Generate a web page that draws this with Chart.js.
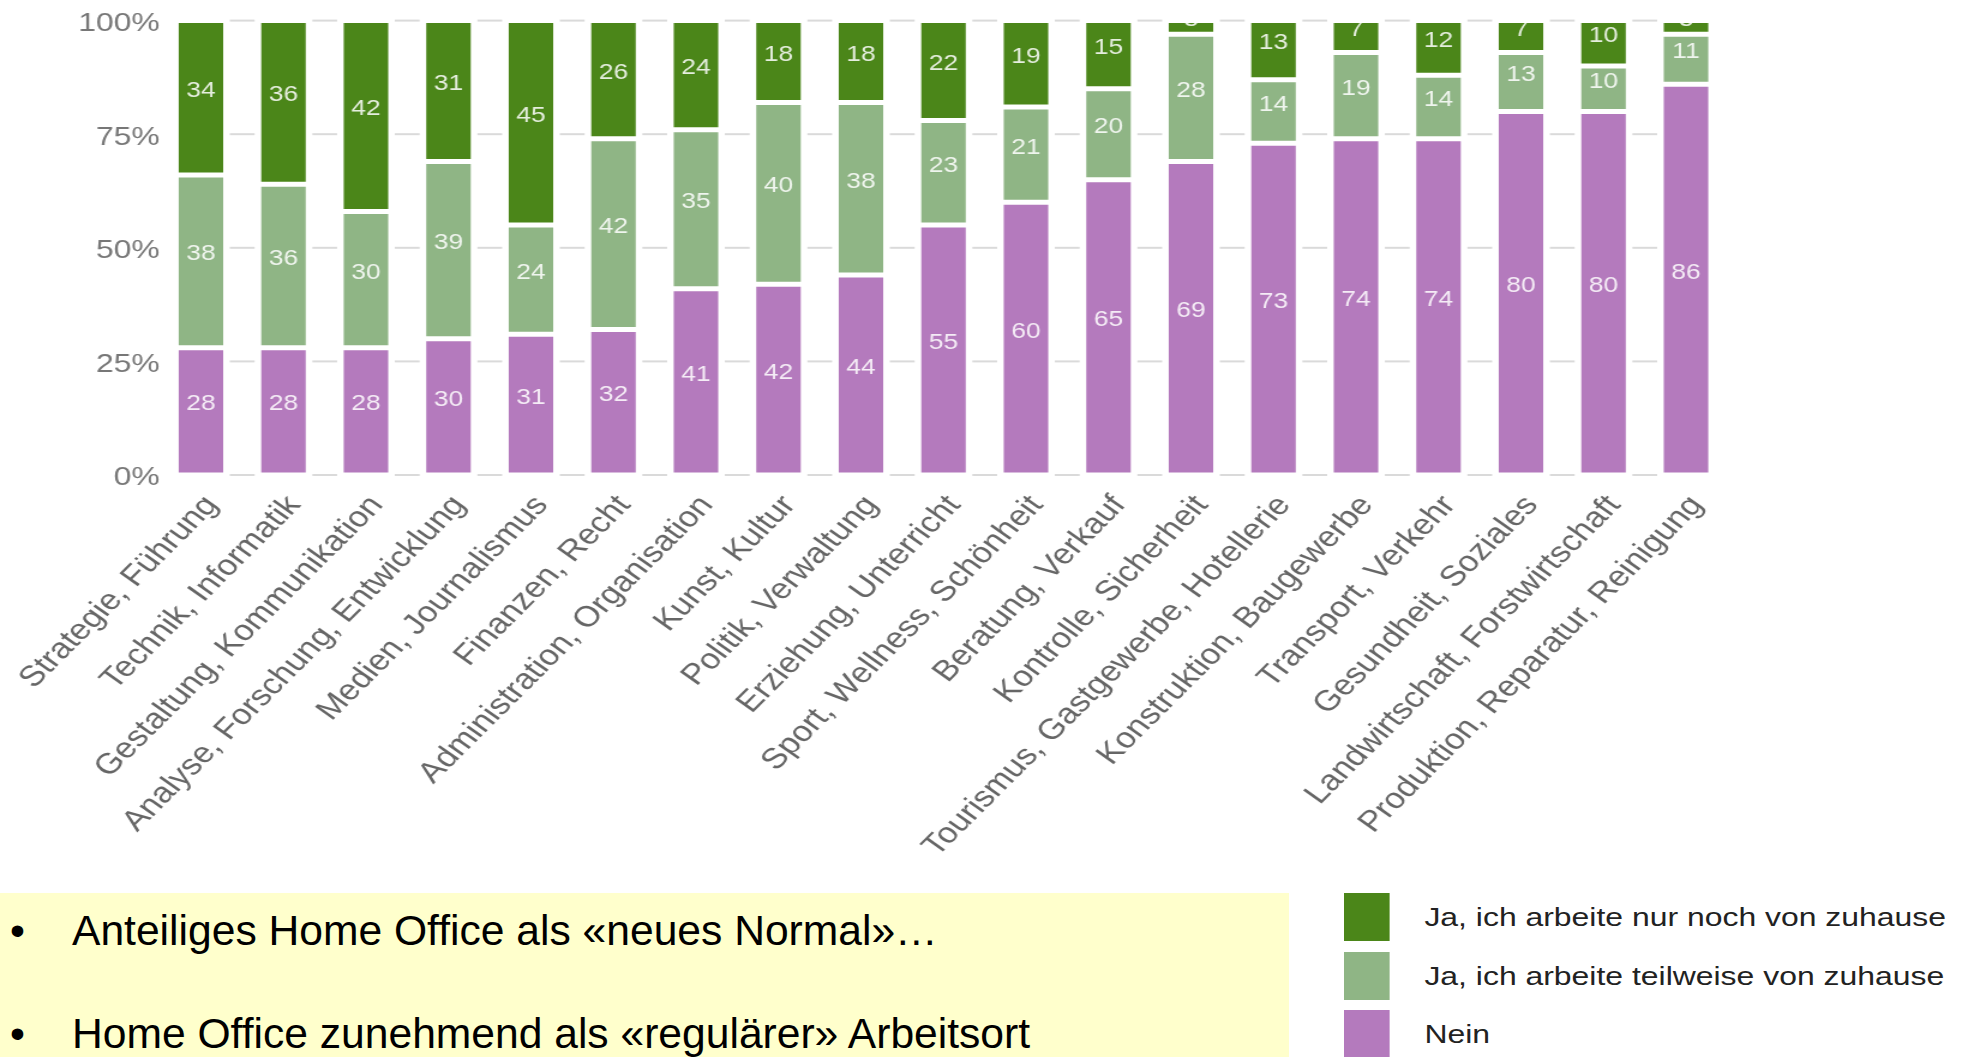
<!DOCTYPE html>
<html lang="de">
<head>
<meta charset="utf-8">
<title>Home Office nach Berufsfeld</title>
<script src="https://cdn.jsdelivr.net/npm/chart.js@4.4.1/dist/chart.umd.min.js"></script>
<style>
  html, body { margin: 0; padding: 0; background: #fff; }
  body {
    width: 1968px; height: 1057px; position: relative; overflow: hidden;
    font-family: 'Liberation Sans', Arial, sans-serif;
  }
  #chart { position: absolute; left: 0; top: 0; width: 1968px; height: 893px; }
  .notes {
    position: absolute; left: 0; top: 893px; width: 1289px; height: 164px;
    background: #ffffcc; color: #000; font-size: 42.6px;
  }
  .note { position: absolute; left: 0; width: 100%; height: 50px; line-height: 50px; white-space: nowrap; }
  .note .dot { position: absolute; left: 10px; }
  .note .txt { position: absolute; left: 72px; }
  /* the legend shares the chart's horizontal stretch */
  #legend {
    position: absolute; left: 1344px; top: 893px; width: 520px; height: 164px;
    transform: scaleX(1.2); transform-origin: 0 0;
  }
  .legend-item { position: absolute; left: 0; height: 48px; }
  .legend-box { position: absolute; left: 0; top: 0; width: 38px; height: 48px; }
  .legend-text {
    position: absolute; left: 67px; top: 0; line-height: 48px; font-size: 26.6px;
    color: #222; white-space: nowrap;
  }
</style>
</head>
<body>
<canvas id="chart" width="1640" height="893"></canvas>

<div class="notes">
  <div class="note" style="top:12px"><span class="dot">•</span><span class="txt">Anteiliges Home Office als «neues Normal»…</span></div>
  <div class="note" style="top:115px"><span class="dot">•</span><span class="txt">Home Office zunehmend als «regulärer» Arbeitsort</span></div>
</div>

<div id="legend"></div>

<script>
'use strict';

const categories = [
  'Strategie, Führung',
  'Technik, Informatik',
  'Gestaltung, Kommunikation',
  'Analyse, Forschung, Entwicklung',
  'Medien, Journalismus',
  'Finanzen, Recht',
  'Administration, Organisation',
  'Kunst, Kultur',
  'Politik, Verwaltung',
  'Erziehung, Unterricht',
  'Sport, Wellness, Schönheit',
  'Beratung, Verkauf',
  'Kontrolle, Sicherheit',
  'Tourismus, Gastgewerbe, Hotellerie',
  'Konstruktion, Baugewerbe',
  'Transport, Verkehr',
  'Gesundheit, Soziales',
  'Landwirtschaft, Forstwirtschaft',
  'Produktion, Reparatur, Reinigung'
];

// Anteile in Prozent, von unten nach oben gestapelt
const neinValues      = [28, 28, 28, 30, 31, 32, 41, 42, 44, 55, 60, 65, 69, 73, 74, 74, 80, 80, 86];
const teilweiseValues = [38, 36, 30, 39, 24, 42, 35, 40, 38, 23, 21, 20, 28, 14, 19, 14, 13, 10, 11];
const nurNochValues   = [34, 36, 42, 31, 45, 26, 24, 18, 18, 22, 19, 15,  3, 13,  7, 12,  7, 10,  3];

const seriesLabels = [
  'Nein',
  'Ja, ich arbeite teilweise von zuhause',
  'Ja, ich arbeite nur noch von zuhause'
];

const yTickValues = [0, 25, 50, 75, 100];

const COLOR_NEIN = '#b47abd';
const COLOR_TEIL = '#8fb585';
const COLOR_NUR = '#4b8619';
const GRID_COLOR = '#dadada';
const LABEL_COLOR = 'rgba(255, 255, 255, 0.86)';
const FONT = "'Liberation Sans', Arial, sans-serif";

Chart.defaults.font.family = FONT;

// Grid lines only in the gaps between the columns
const gapGrid = {
  id: 'gapGrid',
  beforeDatasetsDraw(chart) {
    const { ctx, scales: { y } } = chart;
    const bars = chart.getDatasetMeta(0).data;
    ctx.save();
    ctx.strokeStyle = GRID_COLOR;
    ctx.lineWidth = 2;
    y.ticks.forEach(t => {
      const py = y.getPixelForValue(t.value);
      for (let i = 0; i < bars.length - 1; i++) {
        const x1 = bars[i].x + bars[i].width / 2 + 3;
        const x2 = bars[i + 1].x - bars[i + 1].width / 2 - 3;
        ctx.beginPath();
        ctx.moveTo(x1, py);
        ctx.lineTo(x2, py);
        ctx.stroke();
      }
    });
    ctx.restore();
  }
};

// Value printed in the middle of every segment
const segmentLabels = {
  id: 'segmentLabels',
  afterDatasetsDraw(chart) {
    const { ctx, chartArea } = chart;
    ctx.save();
    ctx.beginPath();
    ctx.rect(chartArea.left, chartArea.top + 2.5, chartArea.right - chartArea.left, chartArea.bottom - chartArea.top);
    ctx.clip();
    ctx.font = `22px ${FONT}`;
    ctx.fillStyle = LABEL_COLOR;
    ctx.textAlign = 'center';
    ctx.textBaseline = 'middle';
    chart.data.datasets.forEach((ds, di) => {
      chart.getDatasetMeta(di).data.forEach((bar, i) => {
        const mid = (bar.y + bar.base) / 2 - 7;
        ctx.fillText(String(ds.data[i]), bar.x, mid);
      });
    });
    ctx.restore();
  }
};

const barStyle = {
  borderColor: '#ffffff',
  borderWidth: 2.5,
  borderSkipped: false,
  barPercentage: 0.612,
  categoryPercentage: 1
};

const canvas = document.getElementById('chart');
canvas.style.width = '1968px';
canvas.style.height = '893px';

const chart = new Chart(canvas, {
  type: 'bar',
  data: {
    labels: categories,
    datasets: [
      { label: seriesLabels[0], data: neinValues, backgroundColor: COLOR_NEIN, ...barStyle },
      { label: seriesLabels[1], data: teilweiseValues, backgroundColor: COLOR_TEIL, ...barStyle },
      { label: seriesLabels[2], data: nurNochValues, backgroundColor: COLOR_NUR, ...barStyle }
    ]
  },
  options: {
    responsive: false,
    devicePixelRatio: 1,
    animation: false,
    layout: { padding: { top: 20.6, right: 200.6, left: 0, bottom: 0 } },
    plugins: {
      legend: { display: false },
      tooltip: { enabled: false }
    },
    scales: {
      x: {
        stacked: true,
        grid: { display: false, drawTicks: false },
        border: { display: false },
        ticks: {
          autoSkip: false,
          minRotation: 50,
          maxRotation: 50,
          padding: 14,
          labelOffset: 9,
          color: '#666666',
          font: { size: 29 }
        },
        afterFit: (scale) => {
          scale.height = 418;
          // rotated labels may overhang to the left; keep the plot where it is
          scale.paddingLeft = 0;
          scale.paddingRight = 0;
        }
      },
      y: {
        stacked: true,
        min: 0,
        max: 100,
        grid: { display: false, drawTicks: false },
        border: { display: false },
        afterBuildTicks: (scale) => { scale.ticks = yTickValues.map(v => ({ value: v })); },
        ticks: {
          padding: 0,
          labelOffset: 3,
          color: '#777777',
          font: { size: 26.5 },
          callback: (v) => v + '%'
        },
        afterFit: (scale) => { scale.width = 133.1; }
      }
    }
  },
  plugins: [gapGrid, segmentLabels]
});

// Legend, top entry first
const legendEl = document.getElementById('legend');
chart.data.datasets.slice().reverse().forEach((ds, i) => {
  const item = document.createElement('div');
  item.className = 'legend-item';
  item.style.top = (i * 58.5) + 'px';
  item.innerHTML = `<div class="legend-box" style="background:${ds.backgroundColor}"></div>` +
    `<div class="legend-text">${ds.label}</div>`;
  legendEl.appendChild(item);
});
</script>
</body>
</html>
